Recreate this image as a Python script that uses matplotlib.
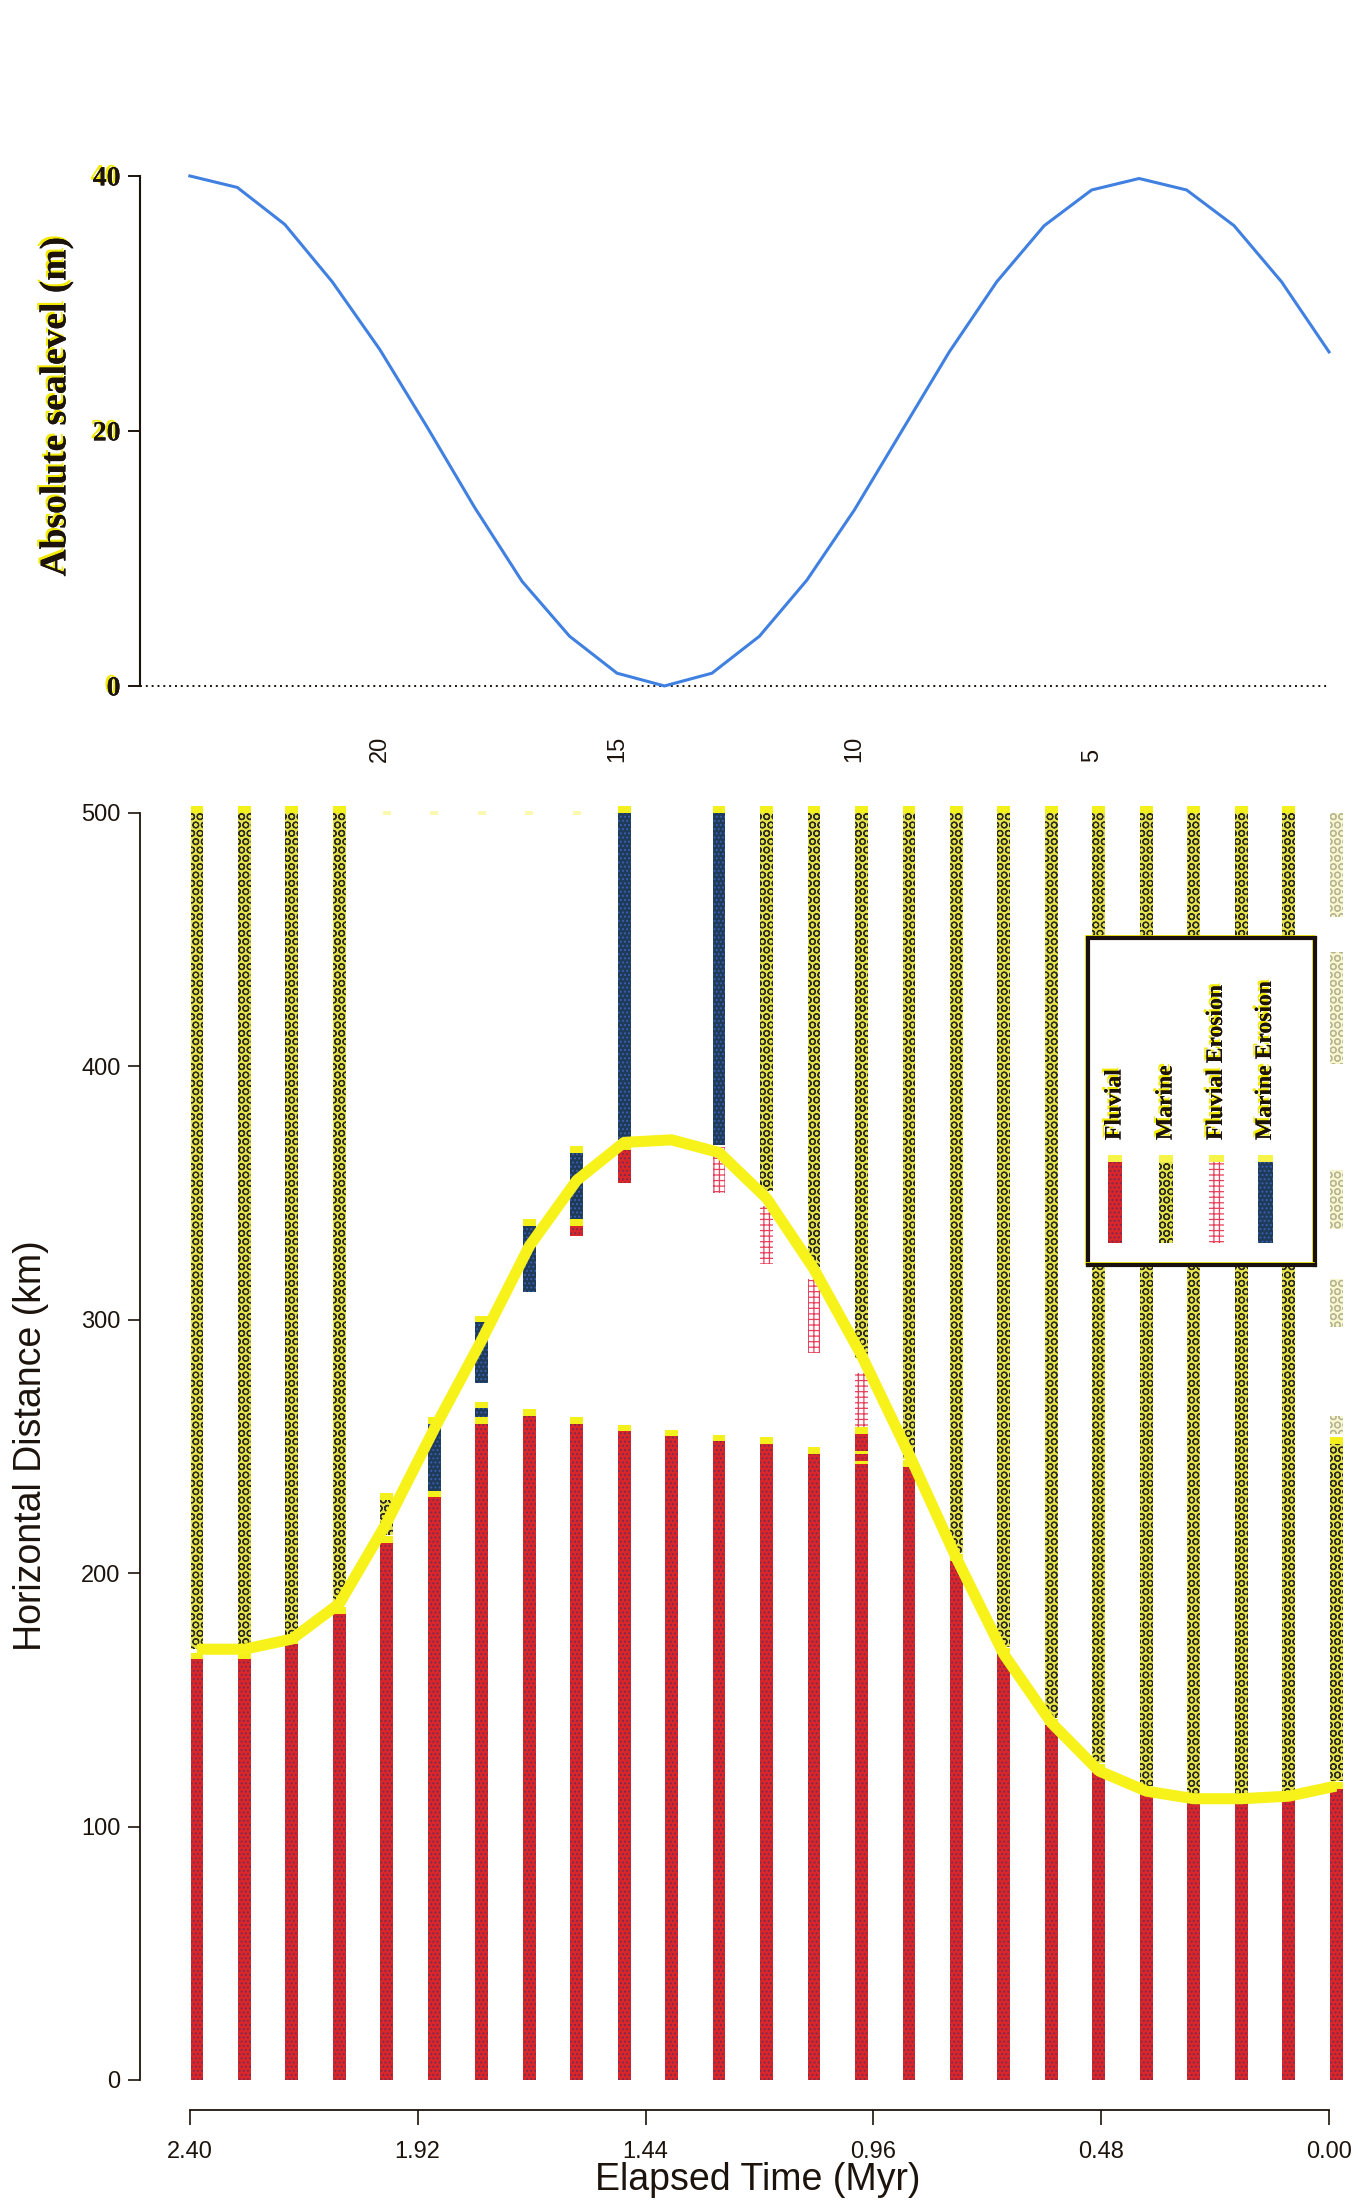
"""
Sea-level cycle (top) and stratigraphic columns through time (bottom).
Saves out.png.
"""
import matplotlib
matplotlib.use("Agg")
import matplotlib.pyplot as plt
import matplotlib.patheffects as pe

plt.rcParams["hatch.linewidth"] = 0.9

SERIF = "Liberation Serif"
SANS = "Liberation Sans"
INK = "#1c140c"
SHADOW = "#f2ea00"
RED = "#d8262a"
MARINE_YEL = "#e8e44c"
NAVY = "#1f3b5a"
PINK = "#e8405c"
CAP = "#f4f01c"
BLUE_LINE = "#3f80e0"

# ── data ────────────────────────────────────────────────────────────────
TIME_MYR = [2.40, 2.30, 2.20, 2.10, 2.00, 1.90, 1.80, 1.70, 1.60, 1.50, 1.40, 1.30,
            1.20, 1.10, 1.00, 0.90, 0.80, 0.70, 0.60, 0.50, 0.40, 0.30, 0.20, 0.10, 0.00]
SEALEVEL_M = [40.0, 39.1, 36.2, 31.7, 26.4, 20.3, 14.0, 8.2, 3.9, 1.0, 0.0, 1.0,
              3.9, 8.3, 13.8, 20.0, 26.2, 31.7, 36.1, 38.9, 39.8, 38.9, 36.1, 31.7, 26.2]
SHORELINE_KM = [170, 170, 174, 188, 220, 257, 292, 329, 355, 370, 371, 366,
                348, 320, 286, 247, 206, 168, 141, 122, 114, 111, 111, 112, 116]

STEP_T = [2.0, 1.5, 1.0, 0.5]
STEP_LABELS = ["20", "15", "10", "5"]

FLUVIAL_T = TIME_MYR + [1.60, 1.50]
FLUVIAL_LO = [0] * 25 + [333, 354]
FLUVIAL_HI = [166, 166, 172, 184, 212, 230, 259, 262, 259, 256, 254, 252,
              251, 247, 255, 242, 205, 168, 140, 122, 113, 110, 110, 111, 115] + [337, 367]

MARINE_T = [2.40, 2.30, 2.20, 2.10, 2.00, 1.20, 1.10, 1.00, 0.90, 0.80, 0.70,
            0.60, 0.50, 0.40, 0.30, 0.20, 0.10, 0.00]
MARINE_LO = [170, 170, 175, 188, 215, 351, 321, 285, 245, 208, 171,
             143, 125, 116, 113, 113, 114, 118]
MARINE_HI = [500, 500, 500, 500, 229, 500, 500, 500, 500, 500, 500,
             500, 500, 500, 500, 500, 500, 251]

# patchy remnants of the last column
FAINT_T = [0.00, 0.00, 0.00, 0.00, 0.00]
FAINT_LO = [255, 297, 336, 401, 459]
FAINT_HI = [262, 316, 359, 445, 500]

# tiny marks left at the top for the columns without marine fill
GHOST_T = [2.00, 1.90, 1.80, 1.70, 1.60]

M_EROS_T = [1.90, 1.80, 1.80, 1.70, 1.60, 1.50, 1.30]
M_EROS_LO = [230, 259, 275, 311, 337, 371, 369]
M_EROS_HI = [259, 265, 299, 337, 366, 500, 500]

F_EROS_T = [1.30, 1.20, 1.10, 1.00]
F_EROS_LO = [350, 322, 287, 256]
F_EROS_HI = [368, 345, 316, 279]

STRIPE_T = [1.00, 1.00]
STRIPE_KM = [243, 247]

LEGEND_NAMES = ["Fluvial", "Marine", "Fluvial Erosion", "Marine Erosion"]

SHIFT = 0.015   # columns sit just right of each time step
BAR_W = 0.027

STYLES = {
    "Fluvial": dict(color=RED, edgecolor="#7a2a50", hatch="...."),
    "Marine": dict(color=MARINE_YEL, edgecolor="#2e2d22", hatch="OO"),
    "Fluvial Erosion": dict(color="white", edgecolor=PINK, hatch="+++"),
    "Marine Erosion": dict(color=NAVY, edgecolor="#3b5fb0", hatch="...."),
}

shadow = [pe.withSimplePatchShadow(offset=(-1.6, 1.6), shadow_rgbFace=SHADOW, alpha=1.0),
          pe.Normal()]

fig = plt.figure(figsize=(13.58, 22.08), dpi=100, facecolor="white")

XLIM = (2.505, -0.0295)
AX_L, AX_W = 140 / 1358, 1203 / 1358

# ── top: absolute sea level ─────────────────────────────────────────────
ax1 = fig.add_axes([AX_L, 0.6876, AX_W, 0.2356])
ax1.plot(TIME_MYR, SEALEVEL_M, color=BLUE_LINE, lw=2.2, zorder=3)
ax1.hlines(0, XLIM[0], 0.0, color=INK, lw=1.4, linestyle=(0, (1, 2)))
ax1.set_xlim(*XLIM)
ax1.set_ylim(-0.3, 40.5)
ax1.spines[["top", "right", "bottom"]].set_visible(False)
ax1.spines["left"].set_bounds(0, 40)
ax1.spines["left"].set_color(INK)
ax1.spines["left"].set_linewidth(1.5)
ax1.set_xticks([])
ax1.set_yticks([0, 20, 40], ["0", "20", "40"], fontfamily=SERIF, fontweight="bold",
               fontsize=20)
ax1.tick_params(axis="y", length=8.6, width=1.4, pad=5.5, color=INK, labelcolor=INK)
for lab in ax1.get_yticklabels():
    lab.set_path_effects(shadow)
ax1.patch.set_alpha(0)

for t, s in zip(STEP_T, STEP_LABELS):
    ax1.text(t, -0.139, s, transform=ax1.get_xaxis_transform(), rotation=90,
             ha="center", va="bottom", fontfamily=SANS, fontsize=17, color=INK)

fig.text(56 / 1358, 1 - 407 / 2208, "Absolute sealevel (m)", rotation=90,
         ha="center", va="center", fontfamily=SERIF, fontweight="bold",
         fontsize=27, color=INK, path_effects=shadow)

# ── bottom: stratigraphic columns ───────────────────────────────────────
ax2 = fig.add_axes([AX_L, 0.0442, AX_W, 0.5945])


def columns(ts, lo, hi, name, alpha=1.0, cap=True):
    xs = [t - SHIFT for t in ts]
    heights = [h - l for l, h in zip(lo, hi)]
    ax2.bar(xs, heights, bottom=lo, width=BAR_W, linewidth=0, alpha=alpha,
            zorder=2, **STYLES[name])
    if cap:
        ax2.bar(xs, [2.6] * len(xs), bottom=hi, width=BAR_W, color=CAP,
                linewidth=0, alpha=alpha, zorder=2.5)


columns(FLUVIAL_T, FLUVIAL_LO, FLUVIAL_HI, "Fluvial")
columns(MARINE_T, MARINE_LO, MARINE_HI, "Marine")
columns(FAINT_T, FAINT_LO, FAINT_HI, "Marine", alpha=0.28, cap=False)
columns(M_EROS_T, M_EROS_LO, M_EROS_HI, "Marine Erosion")
columns(F_EROS_T, F_EROS_LO, F_EROS_HI, "Fluvial Erosion", cap=False)
ax2.bar([t - SHIFT for t in GHOST_T], [1.6] * len(GHOST_T), bottom=499,
        width=BAR_W * 0.6, color=CAP, alpha=0.35, linewidth=0, zorder=2)
ax2.bar([t - SHIFT for t in STRIPE_T], [1.2] * len(STRIPE_T), bottom=STRIPE_KM,
        width=BAR_W, color=CAP, linewidth=0, zorder=2.6)

ax2.plot([t - SHIFT for t in TIME_MYR], SHORELINE_KM, color="#f6f21a", lw=8,
         solid_capstyle="butt", solid_joinstyle="round", zorder=3)

ax2.set_xlim(*XLIM)
ax2.set_ylim(-12, 506)
ax2.spines[["top", "right"]].set_visible(False)
ax2.spines["left"].set_bounds(0, 500)
ax2.spines["bottom"].set_bounds(2.40, 0.00)
for sp in ("left", "bottom"):
    ax2.spines[sp].set_color(INK)
    ax2.spines[sp].set_linewidth(1.3)

XT = [2.40, 1.92, 1.44, 0.96, 0.48, 0.00]
ax2.set_xticks(XT, [f"{v:.2f}" for v in XT], fontfamily=SANS, fontsize=17)
YT = [0, 100, 200, 300, 400, 500]
ax2.set_yticks(YT, [str(v) for v in YT], fontfamily=SANS, fontsize=17)
ax2.tick_params(axis="x", length=10.8, width=1.2, pad=11, color=INK, labelcolor=INK)
ax2.tick_params(axis="y", length=8.6, width=1.2, pad=5.5, color=INK, labelcolor=INK)
ax2.patch.set_alpha(0)

fig.text(758 / 1358, 1 - 2180 / 2208, "Elapsed Time (Myr)", ha="center", va="center",
         fontfamily=SANS, fontsize=27, color=INK)
fig.text(31 / 1358, 1 - 1446 / 2208, "Horizontal Distance (km)", rotation=90,
         ha="center", va="center", fontfamily=SANS, fontsize=27, color=INK)

# ── legend box ──────────────────────────────────────────────────────────
lax = fig.add_axes([1088 / 1358, 1 - 1265 / 2208, 227 / 1358, 327 / 2208], zorder=5)
lax.set_xlim(0, 1)
lax.set_ylim(0, 1)
lax.set_xticks([])
lax.set_yticks([])
lax.set_facecolor("white")
for sp in lax.spines.values():
    sp.set_linewidth(3)
    sp.set_color("#1a1010")
    sp.set_path_effects([pe.SimpleLineShadow(offset=(-1.5, 1.5), shadow_color=SHADOW,
                                             alpha=1.0, linewidth=2), pe.Normal()])

LEG_X = [0.119, 0.344, 0.566, 0.782]
for x, name in zip(LEG_X, LEGEND_NAMES):
    lax.bar(x, 0.248, bottom=0.067, width=0.062, linewidth=0, **STYLES[name])
    lax.bar(x, 0.02, bottom=0.315, width=0.062, color=CAP, linewidth=0, alpha=0.8)
    lax.text(x, 0.382, name, rotation=90, ha="center", va="bottom", fontfamily=SERIF,
             fontweight="bold", fontsize=17, color=INK, path_effects=shadow)

fig.savefig("out.png", dpi=100, facecolor="white")
